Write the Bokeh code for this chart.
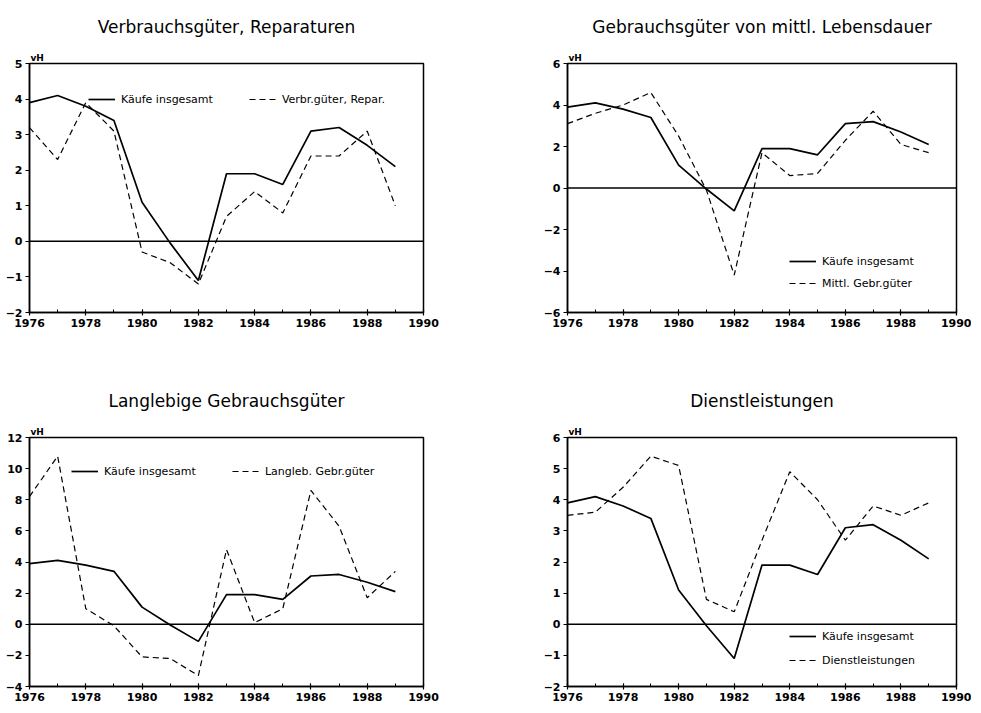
from bokeh.plotting import figure
from bokeh.models import Range1d, SingleIntervalTicker, Span, Title, Legend, LegendItem
from bokeh.layouts import column, row
from bokeh.embed import file_html
from bokeh.resources import INLINE

# ---------------- data ----------------
years = [1976, 1977, 1978, 1979, 1980, 1981, 1982, 1983, 1984, 1985, 1986, 1987, 1988, 1989]

kaeufe_insgesamt = [3.9, 4.1, 3.8, 3.4, 1.1, -0.05, -1.1, 1.9, 1.9, 1.6, 3.1, 3.2, 2.7, 2.1]

verbr_gueter = [3.2, 2.3, 3.9, 3.1, -0.3, -0.6, -1.2, 0.7, 1.4, 0.8, 2.4, 2.4, 3.1, 1.0]
mittl_gebr_gueter = [3.1, 3.6, 4.0, 4.6, 2.5, -0.1, -4.2, 1.7, 0.6, 0.7, 2.3, 3.7, 2.1, 1.7]
langleb_gebr_gueter = [8.2, 10.8, 1.0, -0.1, -2.1, -2.2, -3.3, 4.8, 0.1, 1.0, 8.6, 6.3, 1.7, 3.4]
dienstleistungen = [3.5, 3.6, 4.4, 5.4, 5.1, 0.8, 0.4, 2.7, 4.9, 4.0, 2.7, 3.8, 3.5, 3.9]

titles = ["Verbrauchsgüter, Reparaturen",
          "Gebrauchsgüter von mittl. Lebensdauer",
          "Langlebige Gebrauchsgüter",
          "Dienstleistungen"]
legend_total = "Käufe insgesamt"
legend_other = ["Verbr.güter, Repar.", "Mittl. Gebr.güter", "Langleb. Gebr.güter", "Dienstleistungen"]
y_ranges = [(-2, 5), (-6, 6), (-4, 12), (-2, 6)]
y_steps = [1, 2, 2, 1]
unit_label = "vH"

FONT = "DejaVu Sans"


def panel(title, other, other_label, yr, ystep, fw, fh, bl, br, bt, bb,
          leg_loc, leg_orient, leg_spacing):
    p = figure(frame_width=fw, frame_height=fh,
               min_border_left=bl, min_border_right=br,
               min_border_top=bt, min_border_bottom=bb,
               x_range=Range1d(1976, 1990), y_range=Range1d(*yr),
               toolbar_location=None, output_backend="svg",
               background_fill_color="white", border_fill_color="white")
    p.grid.visible = False
    p.outline_line_color = "black"
    p.outline_line_width = 1.5

    p.xaxis.ticker = SingleIntervalTicker(interval=2, num_minor_ticks=2)
    p.yaxis.ticker = SingleIntervalTicker(interval=ystep, num_minor_ticks=0)
    for ax in (p.xaxis, p.yaxis):
        ax.axis_line_color = "black"
        ax.axis_line_width = 1.5
        ax.major_tick_line_color = "black"
        ax.major_tick_line_width = 1.2
        ax.minor_tick_line_color = "black"
        ax.major_label_text_font = FONT
        ax.major_label_text_font_style = "bold"
        ax.major_label_text_font_size = "11px"
        ax.major_label_text_color = "black"
    p.xaxis.major_tick_in = 3
    p.xaxis.major_tick_out = 3
    p.xaxis.minor_tick_in = 3
    p.xaxis.minor_tick_out = 0
    p.xaxis.major_label_standoff = 3
    p.yaxis.major_tick_in = 0
    p.yaxis.major_tick_out = 4
    p.yaxis.minor_tick_in = 0
    p.yaxis.minor_tick_out = 0
    p.yaxis.major_label_standoff = 3

    p.add_layout(Span(location=0, dimension="width", line_color="black", line_width=1.5))

    r1 = p.line(years, kaeufe_insgesamt, line_color="black", line_width=1.7)
    r2 = p.line(years, other, line_color="black", line_width=1.2, line_dash="6 4")

    leg = Legend(items=[LegendItem(label=legend_total, renderers=[r1]),
                        LegendItem(label=other_label, renderers=[r2])],
                 location=leg_loc, orientation=leg_orient,
                 padding=0, margin=0, spacing=leg_spacing,
                 glyph_width=27, glyph_height=14, label_height=14,
                 label_standoff=6,
                 border_line_alpha=0, background_fill_alpha=0,
                 label_text_font=FONT, label_text_font_size="11px",
                 label_text_color="black")
    p.add_layout(leg)

    p.add_layout(Title(text=unit_label, align="left", offset=1, standoff=2,
                       text_font=FONT, text_font_size="9px", text_font_style="bold",
                       text_color="black"), "above")
    p.add_layout(Title(text=title, align="center", standoff=25,
                       text_font=FONT, text_font_size="17px", text_font_style="normal",
                       text_color="black"), "above")
    return p


p1 = panel(titles[0], verbr_gueter, legend_other[0], y_ranges[0], y_steps[0],
           394, 249, 29, 60, 63, 56, (59, 206), "horizontal", 36)
p2 = panel(titles[1], mittl_gebr_gueter, legend_other[1], y_ranges[1], y_steps[1],
           389, 249, 84, 15, 63, 56, (222, 22), "vertical", 8)
p3 = panel(titles[2], langleb_gebr_gueter, legend_other[2], y_ranges[2], y_steps[2],
           394, 249, 29, 60, 69, 18, (42, 208), "horizontal", 36)
p4 = panel(titles[3], dienstleistungen, legend_other[3], y_ranges[3], y_steps[3],
           389, 249, 84, 15, 69, 18, (222, 19), "vertical", 10)

layout = column(row(p1, p2), row(p3, p4))

open("out.html", "w").write(file_html(layout, INLINE))
